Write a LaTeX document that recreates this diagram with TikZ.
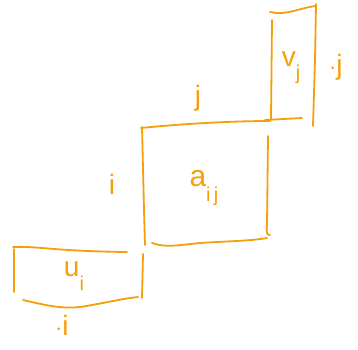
\documentclass[tikz,border=0pt]{standalone}
\usepackage{fontspec}
\setmainfont{Liberation Sans}
\definecolor{pen}{RGB}{245,160,10}
\newcommand{\lowsub}[1]{\raisebox{-0.9ex}{\fontsize{20}{20}\selectfont #1}}
\begin{document}
\begin{tikzpicture}[x=1pt, y=-1pt,
    sketch/.style={draw=pen, line width=1.8pt, line cap=round},
    every node/.style={text=pen, inner sep=0pt, font=\fontsize{28}{30}\selectfont}]
        \useasboundingbox (0,0) rectangle (358,349);
        % Column vector v_j (top right)
        \draw[sketch] (272,20) -- (271,119);
        \draw[sketch] (270,12) .. controls (285,16) and (300,8) .. (315,6);
        \draw[sketch] (316,4) -- (315,60) -- (313,126);
        \draw[sketch] (265,120) -- (302,118);
        % Matrix entry a_ij (middle)
        \draw[sketch] (141,128) .. controls (180,124) and (230,121) .. (270,121);
        \draw[sketch] (142,127) -- (144,210) -- (145,245);
        \draw[sketch] (268,136) -- (267,225) .. controls (266,233) and (267,235) .. (270,235);
        \draw[sketch] (152,243) .. controls (165,248) and (180,245) .. (200,243)
            .. controls (230,241) and (250,241) .. (267,238);
        % Row vector u_i (bottom left)
        \draw[sketch] (13,247) .. controls (40,246) and (50,251) .. (127,252);
        \draw[sketch] (14,249) -- (14,292);
        \draw[sketch] (143,254) -- (142,298);
        \draw[sketch] (23,300) .. controls (45,305) and (60,309) .. (80,307)
            .. controls (100,304) and (120,299) .. (138,297);
        % Labels
        \node (vj) at (291,68) {v\lowsub{j}};
        \node (dotj) at (336,67) {{\fontsize{34}{34}\selectfont$\cdot$}j};
        \node (colj) at (198,98) {j};
        \node (rowi) at (112,184) {i};
        \node (aij) at (204,188) {\fontsize{30}{32}\selectfont a\lowsub{i\,j}};
        \node (ui) at (74,276) {u\lowsub{i}};
        \node (doti) at (62,325) {{\fontsize{34}{34}\selectfont$\cdot$}i};
    \end{tikzpicture}
\end{document}
